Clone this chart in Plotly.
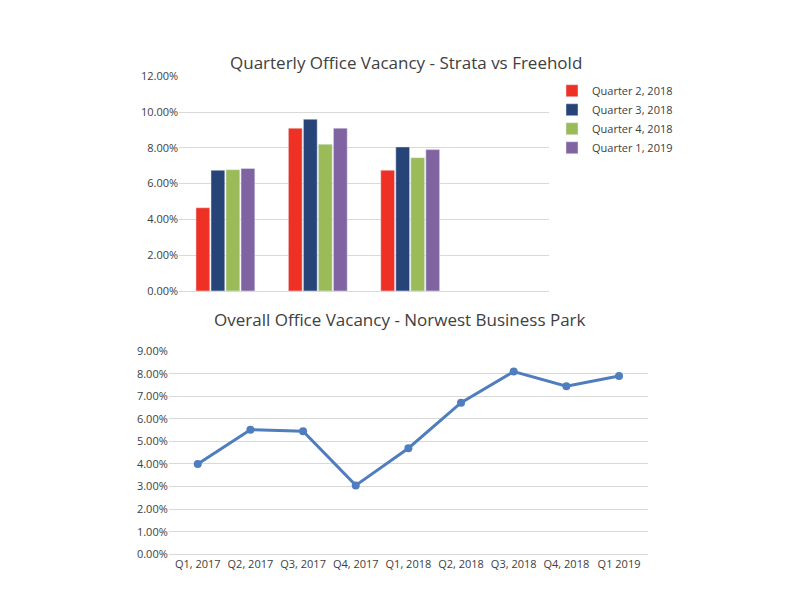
import plotly.graph_objects as go

# bar chart data
groups = ["G1", "G2", "G3", "G4"]
q2_2018 = [4.65, 9.1, 6.75, None]
q3_2018 = [6.75, 9.6, 8.05, None]
q4_2018 = [6.78, 8.2, 7.45, None]
q1_2019 = [6.85, 9.1, 7.9, None]
bar_names = ["Quarter 2, 2018", "Quarter 3, 2018", "Quarter 4, 2018", "Quarter 1, 2019"]
bar_colors = ["#EE3124", "#264478", "#9BBB59", "#8064A2"]

# line chart data
quarters = ["Q1, 2017", "Q2, 2017", "Q3, 2017", "Q4, 2017", "Q1, 2018",
            "Q2, 2018", "Q3, 2018", "Q4, 2018", "Q1 2019"]
overall = [4.0, 5.52, 5.45, 3.05, 4.7, 6.72, 8.1, 7.45, 7.9]

fig = go.Figure()
for name, vals, col in zip(bar_names, [q2_2018, q3_2018, q4_2018, q1_2019], bar_colors):
    fig.add_trace(go.Bar(x=groups, y=vals, name=name, marker_color=col,
                         xaxis="x", yaxis="y"))

fig.add_trace(go.Scatter(x=quarters, y=overall, mode="lines+markers",
                         line=dict(color="#4F7DBE", width=3),
                         marker=dict(size=8, color="#4F7DBE"),
                         showlegend=False, xaxis="x2", yaxis="y2"))

font = dict(family="Open Sans", color="#404040")
fig.update_layout(
    width=800, height=600,
    margin=dict(l=0, r=0, t=0, b=0),
    paper_bgcolor="white", plot_bgcolor="white",
    font=dict(family="Open Sans", size=11, color="#404040"),
    barmode="group", bargap=0.35, bargroupgap=0.08,
    xaxis=dict(domain=[0.214, 0.676], anchor="y", showticklabels=False,
               showline=True, linecolor="#d9d9d9", ticks=""),
    yaxis=dict(domain=[0.530, 0.897], anchor="x", range=[0, 12],
               dtick=2, ticksuffix="%", tickformat=".2f",
               gridcolor="#d9d9d9", zeroline=False),
    xaxis2=dict(domain=[0.201, 0.800], anchor="y2", showline=True,
                linecolor="#d9d9d9", ticks=""),
    yaxis2=dict(domain=[0.080, 0.427], anchor="x2", range=[0, 9],
                dtick=1, ticksuffix="%", tickformat=".2f",
                gridcolor="#d9d9d9", zeroline=False),
    legend=dict(x=0.68, y=0.897, xanchor="left", yanchor="top",
                font=dict(size=11), bgcolor="rgba(0,0,0,0)", itemwidth=30),
    annotations=[
        dict(text="Quarterly Office Vacancy - Strata vs Freehold", x=0.498, y=0.944,
             xref="paper", yref="paper", showarrow=False, font=dict(font, size=17)),
        dict(text="Overall Office Vacancy - Norwest Business Park", x=0.49, y=0.482,
             xref="paper", yref="paper", showarrow=False, font=dict(font, size=17)),
    ],
)

fig.write_html("out.html")
